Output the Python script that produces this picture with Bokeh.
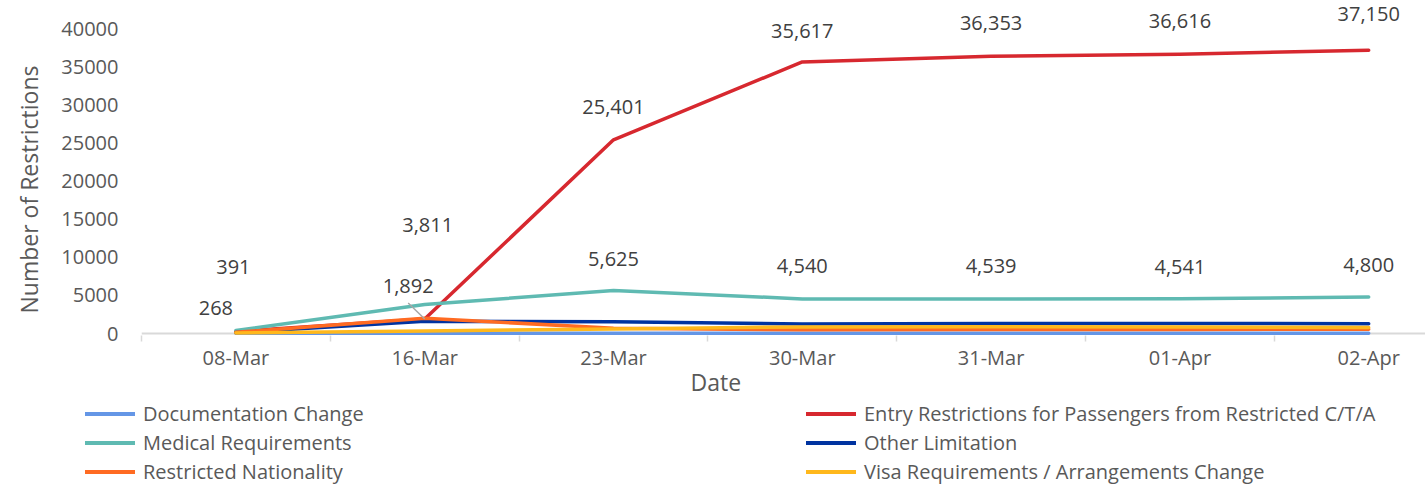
from bokeh.plotting import figure
from bokeh.models import (Range1d, FixedTicker, Span, Legend, LegendItem,
                          ColumnDataSource, Title)
from bokeh.core.properties import value
from bokeh.embed import file_html
from bokeh.resources import INLINE

# ---------------- data ----------------
dates = ["08-Mar", "16-Mar", "23-Mar", "30-Mar", "31-Mar", "01-Apr", "02-Apr"]
documentation = [20, 30, 40, 40, 40, 40, 40]
entry = [268, 1892, 25401, 35617, 36353, 36616, 37150]
medical = [391, 3811, 5625, 4540, 4539, 4541, 4800]
other = [120, 1600, 1530, 1250, 1300, 1300, 1290]
nationality = [150, 2000, 700, 480, 520, 540, 560]
visa = [60, 330, 600, 860, 880, 860, 780]
y_ticks = [0, 5000, 10000, 15000, 20000, 25000, 30000, 35000, 40000]

series_names = [
    "Documentation Change",
    "Entry Restrictions for Passengers from Restricted C/T/A",
    "Medical Requirements",
    "Other Limitation",
    "Restricted Nationality",
    "Visa Requirements / Arrangements Change",
]
series_values = [documentation, entry, medical, other, nationality, visa]
colors = ["#6496E6", "#D7282F", "#5FBAB2", "#0033A0", "#FF6B22", "#FFB81C"]

# label offsets (pixels) for the labelled series
entry_dx = [-20, -16.5, 0, 0, 0, 0, 0]
entry_dy = [-23, -33, -33, -31, -33, -33, -36]
medical_dx = [-2.5, 3, 0, 0, 0, 0, 0]
medical_dy = [-64, -79, -32, -33, -33, -32, -32]

FONT = "Open Sans"
TXT = "#595959"
LBL = "#404040"

x = list(range(len(dates)))
px_per_unit = 305.0 / 40000.0
px_per_cat = 188.8
W = 1425
MAIN_H = 399
LEG_H = 87
FRAME_H = 335
FRAME_L = 141

p = figure(width=W, height=MAIN_H, output_backend="svg", toolbar_location=None,
           x_range=Range1d(-0.5, -0.5 + (W - FRAME_L) / px_per_cat),
           y_range=Range1d(-(FRAME_H - 333) / px_per_unit, 333 / px_per_unit),
           min_border_left=FRAME_L, min_border_right=0, min_border_top=0,
           min_border_bottom=MAIN_H - FRAME_H)
p.outline_line_color = None
p.xgrid.visible = False
p.ygrid.visible = False
p.background_fill_color = "white"
p.border_fill_color = "white"

# zero line (category axis line)
p.add_layout(Span(location=0, dimension="width", line_color="#D9D9D9",
                  line_width=2, level="underlay"))

for name, vals, col in zip(series_names, series_values, colors):
    p.line(x, vals, line_color=col, line_width=3.5, line_join="round",
           line_cap="round")

# leader line for the moved "1,892" label
i = 1
p.segment(x0=[x[i] + entry_dx[i] / px_per_cat],
          y0=[entry[i] + (-entry_dy[i] - 17) / px_per_unit],
          x1=[x[i]], y1=[entry[i]], line_color="#A6A6A6", line_width=1.5)

# data labels
for vals, dx, dy in [(entry, entry_dx, entry_dy), (medical, medical_dx, medical_dy)]:
    src = ColumnDataSource(dict(x=x, y=vals, t=["{:,}".format(v) for v in vals],
                                dx=dx, dy=dy))
    p.text(x="x", y="y", text="t", x_offset="dx", y_offset="dy", source=src,
           text_align="center", text_baseline="middle",
           text_font=value(FONT), text_font_size="20px", text_color=LBL)

# x axis
xa = p.xaxis[0]
xa.ticker = FixedTicker(ticks=x, minor_ticks=[k - 0.5 for k in range(len(dates) + 1)])
xa.major_label_overrides = {k: d for k, d in zip(x, dates)}
xa.axis_line_color = None
xa.major_tick_line_color = None
xa.major_tick_out = 0
xa.minor_tick_line_color = "#D9D9D9"
xa.minor_tick_line_width = 1.5
xa.minor_tick_in = 0
xa.minor_tick_out = 6
xa.major_label_standoff = 2
xa.major_label_text_font = FONT
xa.major_label_text_font_size = "20px"
xa.major_label_text_color = TXT

# y axis
ya = p.yaxis[0]
ya.ticker = FixedTicker(ticks=y_ticks)
ya.axis_line_color = None
ya.major_tick_line_color = None
ya.minor_tick_line_color = None
ya.major_tick_out = 0
ya.major_label_standoff = 23
ya.major_label_text_font = FONT
ya.major_label_text_font_size = "20px"
ya.major_label_text_color = TXT

# axis titles
p.add_layout(Title(text="Number of Restrictions", align="left", offset=22,
                   standoff=24, vertical_align="top", text_font=FONT,
                   text_font_size="23px", text_font_style="normal",
                   text_color=TXT), "left")
p.add_layout(Title(text="Date", align="left", offset=549, standoff=-19,
                   text_font=FONT, text_font_size="23px",
                   text_font_style="normal", text_color=TXT), "below")

# ---------------- legend strip (separate root, not frame-aligned) ----------------
p2 = figure(width=W, height=LEG_H, output_backend="svg", toolbar_location=None,
            x_axis_type=None, y_axis_type=None,
            x_range=Range1d(0, 1), y_range=Range1d(1e6, 2e6),  # series kept out of view
            min_border_left=0, min_border_right=0, min_border_top=0,
            min_border_bottom=0)
p2.outline_line_color = None
p2.xgrid.visible = False
p2.ygrid.visible = False
items = []
for name, vals, col in zip(series_names, series_values, colors):
    r = p2.line(x, vals, line_color=col, line_width=4, line_cap="round")
    items.append(LegendItem(label=name, renderers=[r]))

legend = Legend(items=items, ncols=2, orientation="horizontal",
                location=(85, 0),
                glyph_width=50, glyph_height=29, label_height=29,
                label_width=663, label_standoff=8, spacing=0, padding=0,
                margin=0, border_line_color=None, background_fill_alpha=0,
                label_text_font=FONT, label_text_font_size="20px",
                label_text_color=TXT)
p2.add_layout(legend, "center")

open("out.html", "w").write(file_html([p, p2], INLINE))
